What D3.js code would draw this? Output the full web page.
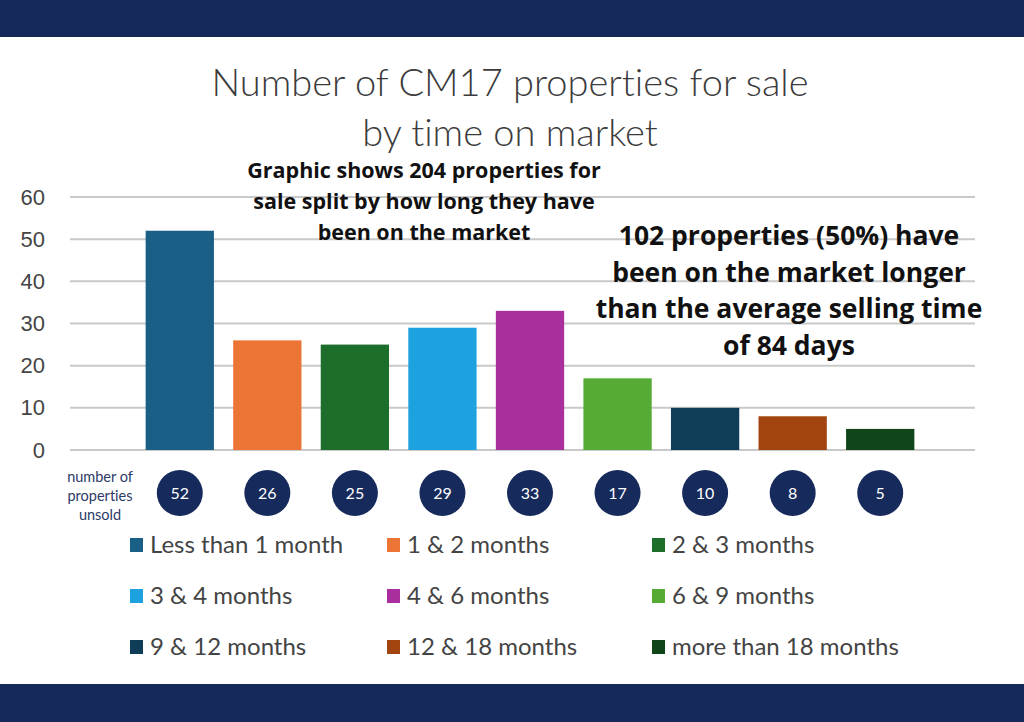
<!DOCTYPE html>
<html>
<head>
  <meta charset="utf-8">
  <title>CM17 properties by time on market</title>
  <script src="https://cdn.jsdelivr.net/npm/d3@7"></script>
  <style>
    body { margin: 0; background: #fff; }
    svg { display: block; }
    text { font-variant-ligatures: none; }
  </style>
</head>
<body>
  <script>
    // data
    const categories = ["Less than 1 month", "1 & 2 months", "2 & 3 months",
      "3 & 4 months", "4 & 6 months", "6 & 9 months",
      "9 & 12 months", "12 & 18 months", "more than 18 months"];
    const values = [52, 26, 25, 29, 33, 17, 10, 8, 5];
    const colors = ["#1a5f86", "#ec7434", "#1d6e2b", "#1da2df", "#a92f9f",
      "#55ab34", "#0f3c56", "#a2440f", "#0f4519"];
    const yTicks = [0, 10, 20, 30, 40, 50, 60];
    const titleLines = ["Number of CM17 properties for sale", "by time on market"];
    const noteLeft = ["Graphic shows 204 properties for", "sale split by how long they have", "been on the market"];
    const noteRight = ["102 properties (50%) have", "been on the market longer", "than the average selling time", "of 84 days"];
    const rowLabel = ["number of", "properties", "unsold"];

    const w = 1024, h = 722;
    const navy = "#14285a";

    const svg = d3.select("body").append("svg")
      .attr("width", w).attr("height", h);

    // top and bottom bands
    svg.append("rect").attr("x", 0).attr("y", 0).attr("width", w).attr("height", 37).attr("fill", navy);
    svg.append("rect").attr("x", 0).attr("y", 684).attr("width", w).attr("height", 38).attr("fill", navy);

    // scales
    const x = d3.scaleBand()
      .domain(categories)
      .range([136, 924])
      .paddingInner(0.22)
      .paddingOuter(0.11);
    const y = d3.scaleLinear()
      .domain([0, 60])
      .range([450, 197]);

    // gridlines
    svg.append("g")
      .selectAll("line")
      .data(yTicks)
      .enter()
      .append("line")
      .attr("x1", 70).attr("x2", 975)
      .attr("y1", d => y(d)).attr("y2", d => y(d))
      .attr("stroke", "#c9c9c9")
      .attr("stroke-width", 2);

    // y axis labels
    const yAxis = svg.append("g")
      .attr("transform", "translate(47,0)")
      .call(d3.axisLeft(y).tickValues(yTicks).tickSize(0).tickPadding(2));
    yAxis.select(".domain").remove();
    yAxis.selectAll("text")
      .attr("font-family", "'Liberation Sans', Arial, sans-serif")
      .attr("font-size", 22)
      .attr("fill", "#454545");

    // bars
    svg.append("g")
      .selectAll("rect")
      .data(values)
      .enter()
      .append("rect")
      .attr("x", (d, i) => x(categories[i]))
      .attr("y", d => y(d))
      .attr("width", x.bandwidth())
      .attr("height", d => y(0) - y(d))
      .attr("fill", (d, i) => colors[i]);

    // value circles
    const bubbles = svg.append("g")
      .selectAll("g")
      .data(values)
      .enter()
      .append("g")
      .attr("transform", (d, i) => `translate(${x(categories[i]) + x.bandwidth() / 2},493)`);
    bubbles.append("circle")
      .attr("r", 23)
      .attr("fill", "#162a5c");
    bubbles.append("text")
      .attr("text-anchor", "middle")
      .attr("dy", "0.35em")
      .attr("font-family", "Lato, 'Open Sans', sans-serif")
      .attr("font-size", 16)
      .attr("fill", "#fff")
      .text(d => d);

    // row label
    svg.append("text")
      .attr("text-anchor", "middle")
      .attr("font-family", "Lato, 'Open Sans', sans-serif")
      .attr("font-size", 14.5)
      .attr("fill", "#2b3a66")
      .selectAll("tspan")
      .data(rowLabel)
      .enter()
      .append("tspan")
      .attr("x", 100)
      .attr("y", (d, i) => 482 + i * 19)
      .text(d => d);

    // title
    svg.append("text")
      .attr("text-anchor", "middle")
      .attr("font-family", "Lato, 'Open Sans', sans-serif")
      .attr("font-weight", 300)
      .attr("font-size", 38)
      .attr("fill", "#3c3c3c")
      .selectAll("tspan")
      .data(titleLines)
      .enter()
      .append("tspan")
      .attr("x", 510)
      .attr("y", (d, i) => 96 + i * 50)
      .text(d => d);

    // notes
    svg.append("text")
      .attr("text-anchor", "middle")
      .attr("font-family", "'Open Sans', sans-serif")
      .attr("font-weight", 700)
      .attr("font-size", 21.5)
      .attr("fill", "#111")
      .selectAll("tspan")
      .data(noteLeft)
      .enter()
      .append("tspan")
      .attr("x", 424)
      .attr("y", (d, i) => 178 + i * 31)
      .text(d => d);

    svg.append("text")
      .attr("text-anchor", "middle")
      .attr("font-family", "'Open Sans', sans-serif")
      .attr("font-weight", 700)
      .attr("font-size", 26.5)
      .attr("fill", "#111")
      .selectAll("tspan")
      .data(noteRight)
      .enter()
      .append("tspan")
      .attr("x", 789)
      .attr("y", (d, i) => 245 + i * 36.5)
      .text(d => d);

    // legend
    const colX = [130, 387, 652];
    const legend = svg.append("g")
      .selectAll("g")
      .data(categories)
      .enter()
      .append("g")
      .attr("transform", (d, i) => `translate(${colX[i % 3]},${545 + Math.floor(i / 3) * 51})`);
    legend.append("rect")
      .attr("x", 0).attr("y", -7)
      .attr("width", 13).attr("height", 14)
      .attr("fill", (d, i) => colors[i]);
    legend.append("text")
      .attr("x", 20)
      .attr("dy", "0.35em")
      .attr("font-family", "Lato, 'Open Sans', sans-serif")
      .attr("font-size", 24)
      .attr("fill", "#444")
      .text(d => d);
  </script>
</body>
</html>
